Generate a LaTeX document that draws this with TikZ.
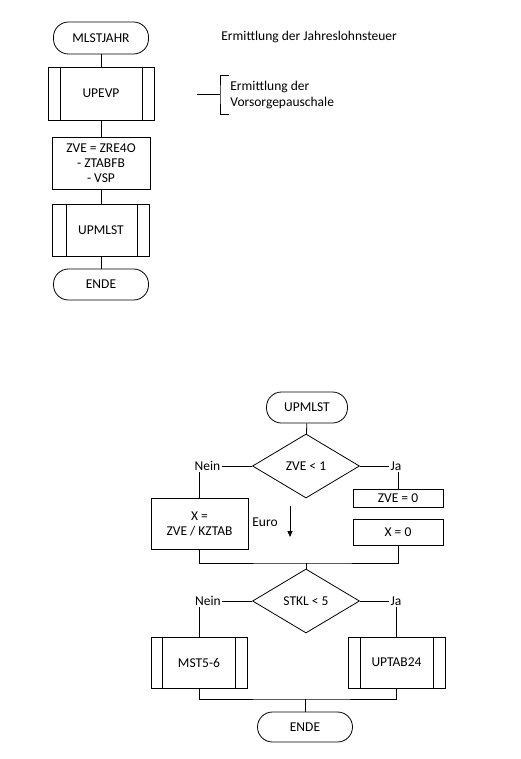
\documentclass[tikz,border=0pt]{standalone}
\usepackage{fontspec}
\setmainfont{Carlito}
\usetikzlibrary{shapes.geometric,arrows.meta}
\begin{document}
\begin{tikzpicture}[x=1pt,y=-1pt,line width=0.8pt,
  font=\fontsize{13.5}{15}\selectfont,
  box/.style={draw,rectangle,inner sep=0pt,align=center},
  term/.style={draw,rectangle,rounded corners=15pt,inner sep=0pt},
  dec/.style={draw,diamond,aspect=1.67,inner sep=0pt,minimum width=107pt,minimum height=64pt},
  lbl/.style={inner sep=1pt},
  ann/.style={inner sep=2pt,align=left,anchor=west}]
\useasboundingbox (0,0) rectangle (521,759);
% ---------- top flow ----------
\node[term,minimum width=95pt,minimum height=32pt] (t1) at (101,38) {MLSTJAHR};
\node[box,minimum width=106pt,minimum height=53pt] (p1) at (101,93.5) {UPEVP};
\draw ([xshift=13pt]p1.north west) -- ([xshift=13pt]p1.south west);
\draw ([xshift=-12pt]p1.north east) -- ([xshift=-12pt]p1.south east);
\node[box,minimum width=98pt,minimum height=52pt] (p2) at (101,163) {ZVE = ZRE4O\\- ZTABFB\\- VSP};
\node[box,minimum width=97pt,minimum height=52pt] (p3) at (101,230) {UPMLST};
\draw ([xshift=14pt]p3.north west) -- ([xshift=14pt]p3.south west);
\draw ([xshift=-13pt]p3.north east) -- ([xshift=-13pt]p3.south east);
\node[term,minimum width=95pt,minimum height=31pt] (t2) at (101,284.5) {ENDE};
\draw (t1) -- (p1);
\draw (p1) -- (p2);
\draw (p2) -- (p3);
\draw (p3) -- (t2);
% annotations
\node[ann] (h) at (219,37) {Ermittlung der Jahreslohnsteuer};
\coordinate (a0) at (197,94);
\coordinate (a1) at (220,94);
\coordinate (bt) at (229,75);
\coordinate (bb) at (229,114);
\draw (a0) -- (a1);
\draw (bt) -| (a1) |- (bb);
\node[ann,font=\fontsize{13.5}{16}\selectfont] (av) at (228,95) {Ermittlung der\\Vorsorgepauschale};
% ---------- bottom flow ----------
\node[term,minimum width=81pt,minimum height=31pt] (u) at (307,407.5) {UPMLST};
\node[dec] (d1) at (306,466) {ZVE < 1};
\node[lbl] (n1) at (207.5,466) {Nein};
\node[lbl] (j1) at (396,466) {Ja};
\node[box,minimum width=97pt,minimum height=51pt] (x1) at (199.5,523.5) {X =\\ZVE / KZTAB};
\node[box,minimum width=90pt,minimum height=18pt] (z0) at (398,498) {ZVE = 0};
\node[box,minimum width=90pt,minimum height=26pt] (x0) at (398,532) {X = 0};
\node[lbl] (eu) at (265,522) {Euro};
\coordinate (e0) at (290,506);
\coordinate (e1) at (290,537);
\draw[-{Triangle[length=6pt,width=5pt]}] (e0) -- (e1);
\draw (u) -- (d1);
\draw (d1.west) -- (n1.east);
\draw (d1.east) -- (j1.west);
\draw (x1.north) -- (x1.north |- n1.south);
\draw (z0.north) -- (z0.north |- j1.south);
\coordinate (m1) at (306,563);
\draw (x1.south) |- (m1) -| (x0.south);
\node[dec] (d2) at (306,601) {STKL < 5};
\draw (m1) -- (d2.north);
\node[lbl] (n2) at (208,601) {Nein};
\node[lbl] (j2) at (396,601) {Ja};
\draw (d2.west) -- (n2.east);
\draw (d2.east) -- (j2.west);
\node[box,minimum width=96pt,minimum height=51pt] (s1) at (199,662.5) {MST5-6};
\draw ([xshift=12pt]s1.north west) -- ([xshift=12pt]s1.south west);
\draw ([xshift=-12pt]s1.north east) -- ([xshift=-12pt]s1.south east);
\node[box,minimum width=97pt,minimum height=51pt] (s2) at (396.5,662.5) {UPTAB24};
\draw ([xshift=13pt]s2.north west) -- ([xshift=13pt]s2.south west);
\draw ([xshift=-12pt]s2.north east) -- ([xshift=-12pt]s2.south east);
\draw (s1.north) -- (s1.north |- n2.south);
\draw (s2.north) -- (s2.north |- j2.south);
\coordinate (m2) at (305,699);
\draw (s1.south) |- (m2) -| (s2.south);
\node[term,minimum width=95pt,minimum height=30pt] (e) at (305,727) {ENDE};
\draw (m2) -- (e.north);
\end{tikzpicture}
\end{document}
